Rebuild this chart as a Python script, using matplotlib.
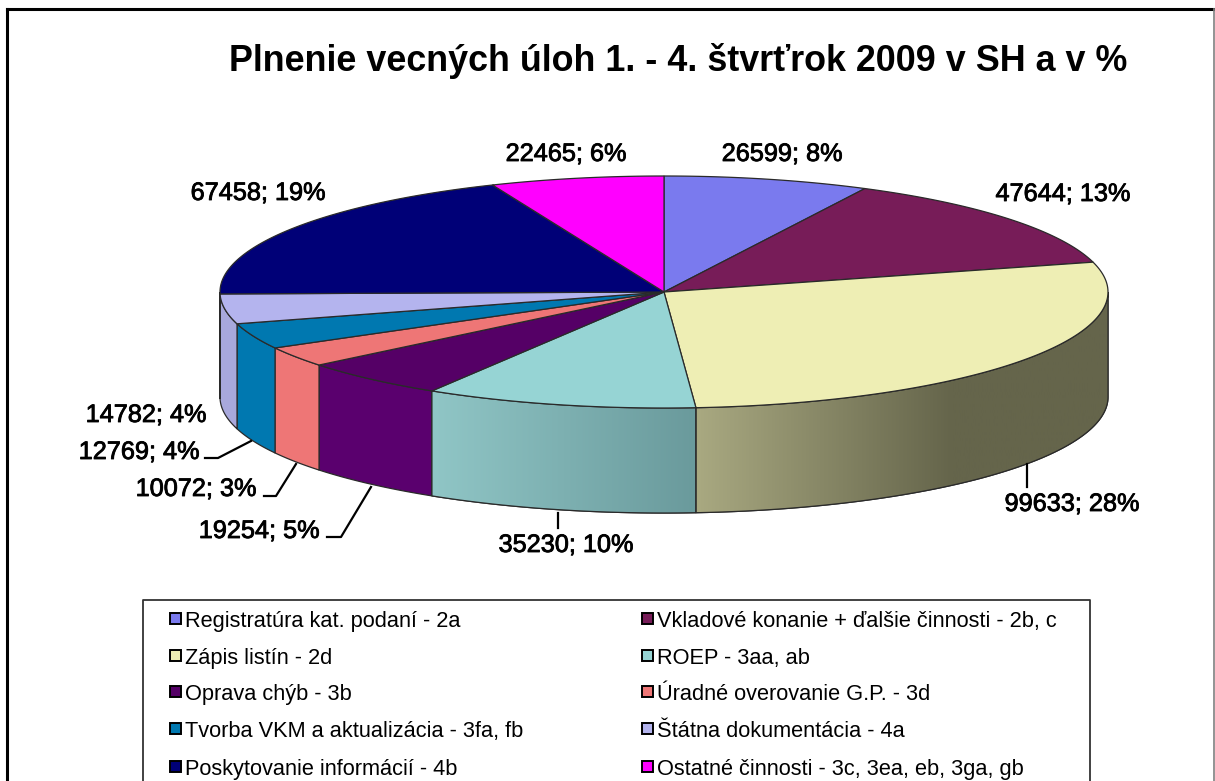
import numpy as np
import matplotlib
matplotlib.use('Agg')
import matplotlib.pyplot as plt
from matplotlib import patheffects
from matplotlib.patches import Polygon, Rectangle
from matplotlib.colors import LinearSegmentedColormap

plt.rcParams['font.family'] = ['Liberation Sans', 'DejaVu Sans']

title = 'Plnenie vecných úloh 1. - 4. štvrťrok 2009 v SH a v %'
names = ['Registratúra kat. podaní - 2a', 'Vkladové konanie + ďalšie činnosti - 2b, c',
         'Zápis listín - 2d', 'ROEP - 3aa, ab', 'Oprava chýb - 3b', 'Úradné overovanie G.P. - 3d',
         'Tvorba VKM a aktualizácia - 3fa, fb', 'Štátna dokumentácia - 4a',
         'Poskytovanie informácií - 4b', 'Ostatné činnosti - 3c, 3ea, eb, 3ga, gb']
values = [26599, 47644, 99633, 35230, 19254, 10072, 12769, 14782, 67458, 22465]
percents = [8, 13, 28, 10, 5, 3, 4, 4, 19, 6]
colors = ['#7a7aee', '#771c58', '#eeeeb4', '#96d4d4', '#550066',
          '#ee7676', '#0078b0', '#b4b4ee', '#000077', '#ff00ff']
wall_colors = ['#5a5ab0', '#551040', '#6a6a50', '#8fc4c4', '#5a006e',
               '#ee7676', '#0078b0', '#a8a8dc', '#000055', '#aa00aa']

# pie geometry in pixels
cx, cy, rx, ry, depth = 664, 292, 444, 116, 105
edge = '#2a2a2a'

label_pos = [(782, 154), (1063, 194), (1072, 504), (566, 545), (259, 531),
             (196, 489), (139, 452), (146, 415), (258, 193), (566, 154)]
leaders = {2: [(1027, 464), (1027, 487)],
           3: [(558, 513), (558, 528)],
           4: [(371, 487), (341, 537), (327, 537)],
           5: [(296, 464), (276, 496), (264, 496)],
           6: [(251, 441), (218, 458), (205, 458)]}


def rim(deg, dy=0):
    t = np.radians(deg)
    return np.column_stack([cx + rx * np.sin(t), cy - ry * np.cos(t) + dy])


fig = plt.figure(figsize=(12.15, 7.81), dpi=100)
ax = fig.add_axes([0, 0, 1, 1])
ax.set_xlim(0, 1215)
ax.set_ylim(781, 0)
ax.axis('off')

angles = np.concatenate([[0], np.cumsum(values)]) / sum(values) * 360

# front walls
for i in range(len(values)):
    a0, a1 = max(angles[i], 90), min(angles[i + 1], 270)
    if a1 <= a0:
        continue
    t = np.linspace(a0, a1, 120)
    pts = np.vstack([rim(t), rim(t[::-1], depth)])
    poly = Polygon(pts, closed=True, fc=wall_colors[i], ec=edge, lw=0.9, zorder=2)
    ax.add_patch(poly)
    if i == 2:
        cmap = LinearSegmentedColormap.from_list('w', [(0, '#a9a981'), (0.62, '#65654b'), (1, '#65654b')])
    elif i == 3:
        cmap = LinearSegmentedColormap.from_list('w', ['#6a9a9c', '#90c6c6'])
    else:
        continue
    im = ax.imshow(np.linspace(0, 1, 256).reshape(1, -1), cmap=cmap, aspect='auto', zorder=2.1,
                   extent=[pts[:, 0].min(), pts[:, 0].max(), 781, 0]
                   if i == 2 else [pts[:, 0].max(), pts[:, 0].min(), 781, 0])
    im.set_clip_path(poly)
    ax.add_patch(Polygon(pts, closed=True, fc='none', ec=edge, lw=0.9, zorder=2.2))
ax.set_xlim(0, 1215)
ax.set_ylim(781, 0)

# top of the pie
for i in range(len(values)):
    t = np.linspace(angles[i], angles[i + 1], 120)
    pts = np.vstack([[cx, cy], rim(t)])
    ax.add_patch(Polygon(pts, closed=True, fc=colors[i], ec=edge, lw=0.9, zorder=3))

# data labels
stroke = [patheffects.withStroke(linewidth=0.6, foreground='black')]
for i in range(len(values)):
    ax.text(label_pos[i][0], label_pos[i][1], f'{values[i]}; {percents[i]}%', fontsize=18.2,
            ha='center', va='center', color='black', path_effects=stroke, zorder=5)
for pts in leaders.values():
    ax.plot([p[0] for p in pts], [p[1] for p in pts], color='black', lw=1.6, zorder=4)

ax.text(229, 71, title, fontsize=25.8, fontweight='bold', ha='left', va='baseline', color='black')

# legend, runs off the bottom of the picture
ax.plot([143, 143, 1090, 1090], [781, 600, 600, 781], color='#333333', lw=1.3)
rows = [619, 656, 692, 729, 767]
for i, name in enumerate(names):
    x = 170 if i % 2 == 0 else 642
    y = rows[i // 2]
    ax.add_patch(Rectangle((x, y - 6), 11, 11, fc=colors[i], ec='black', lw=1.4, zorder=3))
    ax.text(x + 15, y, name, fontsize=15.7, ha='left', va='center_baseline', color='black')

# chart border
ax.plot([7, 7], [781, 9], color='black', lw=2.2, clip_on=False)
ax.plot([7, 1215], [9, 9], color='black', lw=2.2)
ax.plot([1214, 1214], [9, 781], color='#808080', lw=1.2)

fig.savefig('out.png', dpi=100, facecolor='white')
